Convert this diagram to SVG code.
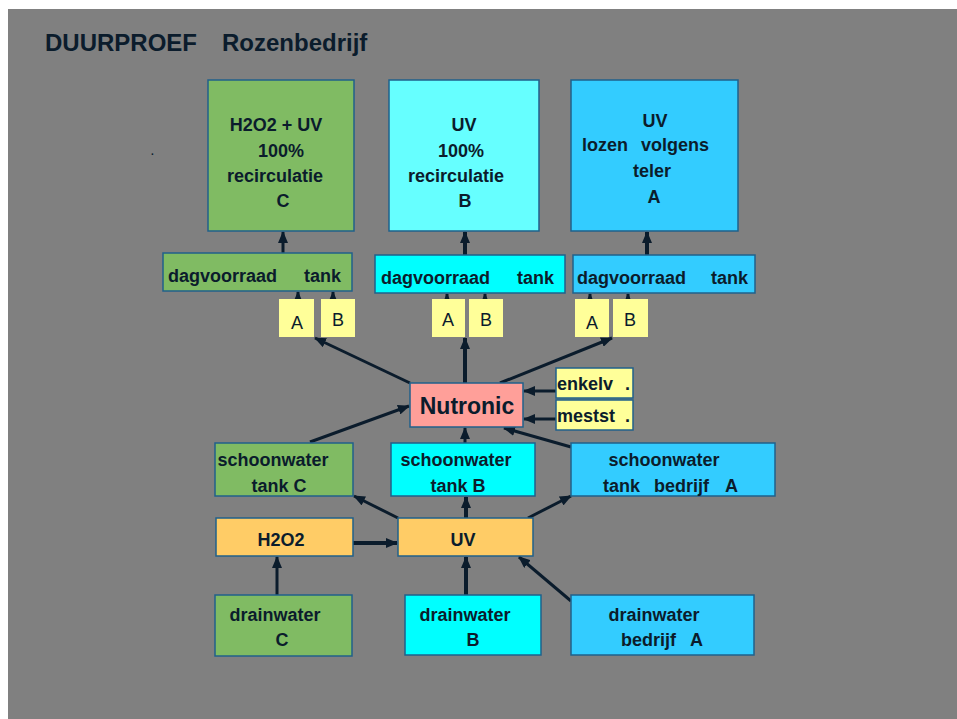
<svg xmlns="http://www.w3.org/2000/svg" width="957" height="719" viewBox="0 0 957 719">
<defs>
<style>
.t{font-family:"Liberation Sans",Arial,sans-serif;font-weight:bold;font-size:18px;fill:#0b1c2c}
.n{font-family:"Liberation Sans",Arial,sans-serif;font-size:18px;fill:#0b1c2c}
.c{text-anchor:middle}
.box{stroke:#21608a;stroke-width:1.5}
.g{fill:#80bb63}.cy{fill:#00ffff}.lc{fill:#66ffff}.bl{fill:#33ccff}.y{fill:#ffff99}.o{fill:#ffcc66}.p{fill:#ff9f99}
.ln{stroke:#0b1c2c;stroke-width:3;fill:none}
.th{stroke-width:4}
</style>
<marker id="ah" markerWidth="12" markerHeight="10" refX="11" refY="5" orient="auto" markerUnits="userSpaceOnUse">
<path d="M0,0 L12,5 L0,10 Z" fill="#0b1c2c"/>
</marker>
</defs>
<rect x="0" y="0" width="957" height="719" fill="#ffffff"/>
<rect x="8" y="9" width="949" height="710" fill="#808080"/>
<g id="title">
<text class="t" x="45" y="51" style="font-size:24px">DUURPROEF</text>
<text class="t" x="222" y="51" style="font-size:24px">Rozenbedrijf</text>
<text class="t" x="151" y="155" style="font-size:10px">.</text>
</g>
<g id="connectors">
<line class="ln" x1="283" y1="253" x2="283" y2="232" marker-end="url(#ah)"/>
<line class="ln th" x1="465" y1="255" x2="465" y2="232" marker-end="url(#ah)"/>
<line class="ln th" x1="647" y1="255" x2="647" y2="232" marker-end="url(#ah)"/>
<line class="ln" x1="298" y1="299" x2="298" y2="292" marker-end="url(#ah)"/>
<line class="ln" x1="333" y1="299" x2="333" y2="292" marker-end="url(#ah)"/>
<line class="ln" x1="447" y1="299" x2="447" y2="294" marker-end="url(#ah)"/>
<line class="ln" x1="485" y1="299" x2="485" y2="294" marker-end="url(#ah)"/>
<line class="ln" x1="590" y1="299" x2="590" y2="294" marker-end="url(#ah)"/>
<line class="ln" x1="628" y1="299" x2="628" y2="294" marker-end="url(#ah)"/>
<line class="ln" x1="410" y1="383" x2="315" y2="338" marker-end="url(#ah)"/>
<line class="ln th" x1="465" y1="383" x2="465" y2="338" marker-end="url(#ah)"/>
<line class="ln" x1="500" y1="383" x2="612" y2="338" marker-end="url(#ah)"/>
<line class="ln" x1="562" y1="391" x2="524" y2="391" marker-end="url(#ah)"/>
<line class="ln" x1="562" y1="419" x2="524" y2="419" marker-end="url(#ah)"/>
<line class="ln" x1="310" y1="442" x2="409" y2="406" marker-end="url(#ah)"/>
<line class="ln" x1="465" y1="443" x2="465" y2="428" marker-end="url(#ah)"/>
<line class="ln" x1="571" y1="447" x2="504" y2="428" marker-end="url(#ah)"/>
<line class="ln th" x1="353" y1="543" x2="397" y2="543" marker-end="url(#ah)"/>
<line class="ln" x1="398" y1="518" x2="354" y2="496" marker-end="url(#ah)"/>
<line class="ln th" x1="466" y1="518" x2="466" y2="497" marker-end="url(#ah)"/>
<line class="ln" x1="528" y1="518" x2="571" y2="496" marker-end="url(#ah)"/>
<line class="ln" x1="277" y1="595" x2="277" y2="557" marker-end="url(#ah)"/>
<line class="ln th" x1="466" y1="595" x2="466" y2="557" marker-end="url(#ah)"/>
<line class="ln" x1="571" y1="601" x2="519" y2="557" marker-end="url(#ah)"/>
</g>
<g id="top-c">
<rect class="box g" x="208" y="80" width="146" height="151"/>
<text class="t c" x="276" y="131">H2O2 + UV</text>
<text class="t c" x="281" y="157">100%</text>
<text class="t c" x="275" y="182">recirculatie</text>
<text class="t c" x="283" y="207">C</text>
</g>
<g id="top-b">
<rect class="box lc" x="389" y="80" width="150" height="151"/>
<text class="t c" x="464" y="131">UV</text>
<text class="t c" x="461" y="157">100%</text>
<text class="t c" x="456" y="182">recirculatie</text>
<text class="t c" x="465" y="207">B</text>
</g>
<g id="top-a">
<rect class="box bl" x="571" y="80" width="167" height="151"/>
<text class="t c" x="655" y="127">UV</text>
<text class="t" x="582" y="151">lozen</text>
<text class="t" x="641" y="151">volgens</text>
<text class="t c" x="652" y="177">teler</text>
<text class="t c" x="654" y="203">A</text>
</g>
<g id="dag-c">
<rect class="box g" x="163" y="253" width="189" height="38"/>
<text class="t" x="168" y="282">dagvoorraad</text>
<text class="t" x="304" y="282">tank</text>
</g>
<g id="dag-b">
<rect class="box cy" x="375" y="255" width="190" height="38"/>
<text class="t" x="381" y="284">dagvoorraad</text>
<text class="t" x="517" y="284">tank</text>
</g>
<g id="dag-a">
<rect class="box bl" x="573" y="255" width="182" height="38"/>
<text class="t" x="577" y="284">dagvoorraad</text>
<text class="t" x="711" y="284">tank</text>
</g>
<g id="ab-c">
<rect class="y" x="279" y="299" width="35" height="38"/>
<text class="n c" x="297" y="329">A</text>
<rect class="y" x="321" y="299" width="34" height="38"/>
<text class="n c" x="338" y="326">B</text>
</g>
<g id="ab-b">
<rect class="y" x="432" y="299" width="33" height="38"/>
<text class="n c" x="448" y="326">A</text>
<rect class="y" x="469" y="299" width="34" height="38"/>
<text class="n c" x="486" y="326">B</text>
</g>
<g id="ab-a">
<rect class="y" x="575" y="299" width="34" height="38"/>
<text class="n c" x="592" y="329">A</text>
<rect class="y" x="613" y="299" width="35" height="38"/>
<text class="n c" x="630" y="326">B</text>
</g>
<g id="nutronic">
<rect class="box p" x="410" y="383" width="113" height="44"/>
<text class="t c" x="467" y="414" style="font-size:23px">Nutronic</text>
</g>
<g id="enkelv">
<rect class="box y" x="556" y="368" width="77" height="30"/>
<text class="t" x="557" y="390">enkelv</text>
<text class="t" x="625" y="390">.</text>
</g>
<g id="mestst">
<rect class="box y" x="556" y="400" width="77" height="30"/>
<text class="t" x="557" y="422">mestst</text>
<text class="t" x="625" y="422">.</text>
</g>
<g id="schoon-c">
<rect class="box g" x="215" y="443" width="138" height="53"/>
<text class="t c" x="273" y="466">schoonwater</text>
<text class="t c" x="279" y="492">tank C</text>
</g>
<g id="schoon-b">
<rect class="box cy" x="391" y="443" width="144" height="53"/>
<text class="t c" x="456" y="466">schoonwater</text>
<text class="t c" x="458" y="492">tank B</text>
</g>
<g id="schoon-a">
<rect class="box bl" x="571" y="443" width="204" height="53"/>
<text class="t c" x="664" y="466">schoonwater</text>
<text class="t" x="603" y="492">tank</text>
<text class="t" x="654" y="492">bedrijf</text>
<text class="t" x="725" y="492">A</text>
</g>
<g id="h2o2">
<rect class="box o" x="216" y="518" width="137" height="38"/>
<text class="t c" x="281" y="546">H2O2</text>
</g>
<g id="uv">
<rect class="box o" x="398" y="518" width="135" height="38"/>
<text class="t c" x="463" y="546">UV</text>
</g>
<g id="drain-c">
<rect class="box g" x="215" y="595" width="137" height="61"/>
<text class="t c" x="275" y="621">drainwater</text>
<text class="t c" x="282" y="646">C</text>
</g>
<g id="drain-b">
<rect class="box cy" x="405" y="595" width="136" height="60"/>
<text class="t c" x="465" y="621">drainwater</text>
<text class="t c" x="473" y="646">B</text>
</g>
<g id="drain-a">
<rect class="box bl" x="571" y="595" width="183" height="60"/>
<text class="t c" x="654" y="621">drainwater</text>
<text class="t" x="621" y="646">bedrijf</text>
<text class="t" x="690" y="646">A</text>
</g>
</svg>
